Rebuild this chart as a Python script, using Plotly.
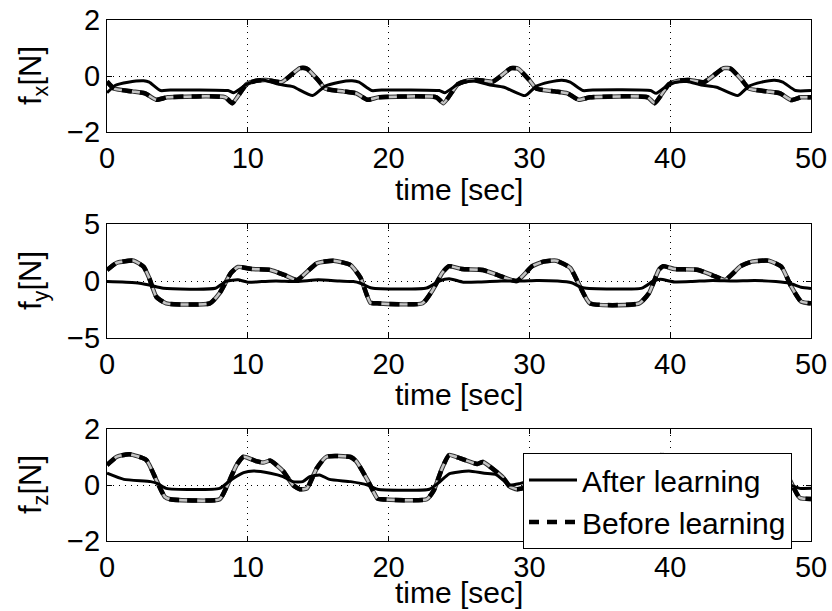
import plotly.graph_objects as go

# ---------------- data ----------------
fx_after_t = [0, 0.6, 1.5, 2.6, 3.0, 3.8, 4.5, 8.6, 9.0, 9.9, 10.4, 11.1, 12.2, 13.2, 14.6,
              15.5, 16.5, 17.4, 17.9, 18.8, 19.5, 23.6, 24.0, 24.9, 25.4, 26.1, 27.2, 28.2, 29.7,
              30.5, 31.4, 32.3, 32.9, 33.8, 34.5, 38.6, 39.0, 39.9, 40.4, 41.2, 42.2, 43.3, 44.8,
              45.6, 46.5, 47.4, 48.0, 48.9, 50.0]
fx_after_v = [-0.6, -0.33, -0.22, -0.17, -0.22, -0.52, -0.5, -0.52, -0.6, -0.3, -0.2, -0.14, -0.3, -0.38, -0.7,
              -0.36, -0.22, -0.17, -0.22, -0.52, -0.5, -0.52, -0.6, -0.3, -0.22, -0.18, -0.32, -0.4, -0.7,
              -0.36, -0.22, -0.15, -0.22, -0.52, -0.5, -0.52, -0.62, -0.3, -0.22, -0.2, -0.32, -0.4, -0.7,
              -0.36, -0.22, -0.15, -0.22, -0.52, -0.52]

fx_before_t = [0, 0.5, 1.8, 2.7, 3.5, 4.3, 8.4, 8.9, 9.9, 10.6, 11.3, 12.4, 13.7, 14.2, 15.0,
               15.5, 16.8, 17.7, 18.5, 19.3, 23.4, 23.9, 24.9, 25.6, 26.3, 27.4, 28.7, 29.2, 30.0,
               30.5, 31.8, 32.7, 33.5, 34.3, 38.4, 38.9, 39.9, 40.6, 41.3, 42.4, 43.8, 44.3, 45.1,
               45.6, 46.9, 47.8, 48.6, 49.3, 50.0]
fx_before_v = [-0.2, -0.45, -0.55, -0.62, -0.85, -0.76, -0.76, -0.97, -0.3, -0.17, -0.14, -0.22, 0.28, 0.26, -0.15,
               -0.45, -0.55, -0.62, -0.85, -0.76, -0.76, -0.97, -0.3, -0.17, -0.14, -0.2, 0.28, 0.26, -0.15,
               -0.45, -0.55, -0.62, -0.85, -0.76, -0.76, -0.97, -0.3, -0.17, -0.14, -0.22, 0.28, 0.26, -0.15,
               -0.45, -0.55, -0.62, -0.86, -0.76, -0.76]

fy_after_t = [0, 2.0, 3.0, 4.0, 7.7, 8.5, 9.3, 10.0, 11.0, 12.0, 13.5, 15.0, 16.5, 17.5, 18.0, 18.8,
              22.7, 23.6, 24.3, 25.3, 26.5, 28.0, 29.5, 30.5, 32.0, 33.0, 33.8, 38.0, 38.8, 39.3,
              40.3, 41.5, 43.0, 44.5, 46.0, 47.5, 48.5, 49.3, 50.0]
fy_after_v = [-0.05, -0.15, -0.35, -0.64, -0.64, 0.0, 0.1, -0.1, -0.05, 0.0, -0.05, 0.1, 0.0, -0.05, -0.2, -0.62,
              -0.62, 0.0, 0.2, -0.1, -0.08, 0.0, 0.0, 0.05, 0.0, -0.15, -0.6, -0.62, 0.0, 0.15,
              -0.08, -0.05, 0.05, 0.0, 0.05, -0.05, -0.2, -0.55, -0.65]

fy_before_t = [0, 0.7, 1.9, 2.6, 3.0, 3.5, 4.2, 7.3, 8.0, 8.8, 9.3, 10.3, 11.6, 12.6, 13.5, 14.9,
               16.1, 17.3, 18.0, 18.7, 19.2, 22.4, 23.1, 23.8, 24.3, 25.2, 26.7, 27.8, 29.1, 30.2,
               31.0, 31.9, 32.9, 33.6, 34.3, 37.8, 38.5, 39.2, 39.5, 40.3, 42.0, 43.0, 43.9, 45.0,
               45.8, 47.0, 47.9, 48.6, 49.3, 50.0]
fy_before_v = [0.96, 1.6, 1.78, 1.25, 0.26, -1.38, -1.96, -1.96, -1.06, 0.7, 1.23, 1.05, 0.97, 0.53, 0.09, 1.55,
               1.78, 1.4, 0.3, -1.9, -1.96, -1.96, -0.85, 0.7, 1.3, 1.05, 0.97, 0.5, 0.0, 1.3,
               1.7, 1.78, 1.15, -0.5, -1.96, -1.96, -1.06, 1.0, 1.3, 1.05, 0.97, 0.5, 0.1, 1.3,
               1.7, 1.78, 1.25, -0.5, -1.8, -1.96]

fz_after_t = [0, 1.2, 3.1, 3.6, 4.2, 8.0, 8.8, 9.7, 10.4, 11.6, 12.5, 13.2, 13.9, 14.4, 15.1, 15.8,
              17.3, 18.5, 19.2, 22.9, 23.6, 24.3, 25.7, 26.8, 27.6, 28.6, 29.3, 29.8, 30.3, 30.8,
              32.3, 33.5, 34.2, 37.9, 38.6, 39.3, 40.7, 41.8, 42.6, 43.6, 44.3, 44.8, 45.3, 45.8,
              47.3, 48.5, 49.2, 50.0]
fz_after_v = [0.42, 0.2, 0.12, 0.05, -0.12, -0.12, 0.18, 0.44, 0.5, 0.42, 0.3, 0.12, 0.12, 0.3, 0.36, 0.2,
              0.12, 0.0, -0.15, -0.15, 0.1, 0.4, 0.5, 0.42, 0.38, 0.0, 0.05, 0.12, 0.3, 0.2,
              0.12, 0.0, -0.15, -0.15, 0.1, 0.4, 0.5, 0.42, 0.38, 0.0, 0.05, 0.12, 0.3, 0.2,
              0.12, 0.0, -0.12, -0.12]

fz_before_t = [0, 0.7, 1.6, 2.8, 3.5, 4.1, 4.5, 8.0, 8.5, 9.2, 9.7, 10.6, 11.1, 11.6, 12.5, 13.2,
               13.7, 14.2, 14.9, 15.6, 17.3, 17.7, 18.5, 19.2, 19.5, 22.7, 23.2, 23.8, 24.3, 25.1,
               26.3, 26.7, 28.1, 28.6, 29.1, 29.6, 30.2, 30.8, 32.3, 32.8, 33.5, 34.2, 34.5, 37.7,
               38.2, 38.8, 39.3, 40.2, 41.3, 41.8, 43.1, 43.6, 44.1, 44.6, 45.2, 45.8, 47.3, 47.8,
               48.5, 49.2, 50.0]
fz_before_v = [0.71, 1.01, 1.1, 0.89, 0.18, -0.42, -0.51, -0.51, -0.06, 0.71, 1.01, 0.85, 0.8, 0.87, 0.5, 0.0,
               -0.15, -0.12, 0.6, 1.01, 1.0, 0.85, 0.18, -0.48, -0.51, -0.51, -0.2, 0.6, 1.07, 0.95,
               0.75, 0.82, 0.28, -0.05, -0.15, -0.1, 0.6, 1.01, 1.0, 0.85, 0.18, -0.48, -0.51, -0.51,
               -0.2, 0.6, 1.07, 0.95, 0.75, 0.82, 0.28, -0.05, -0.15, -0.1, 0.6, 1.01, 1.0, 0.85,
               0.18, -0.46, -0.5]

x_ticks = [0, 10, 20, 30, 40, 50]
y_ticks = [[-2, 0, 2], [-5, 0, 5], [-2, 0, 2]]
y_ranges = [[-2, 2], [-5, 5], [-2, 2]]
y_titles = ["f<sub>x</sub>[N]", "f<sub>y</sub>[N]", "f<sub>z</sub>[N]"]
x_title = "time [sec]"
legend_names = ["After learning", "Before learning"]

# ---------------- figure ----------------
FONT = "Liberation Sans, Arial, Helvetica, sans-serif"
W, H = 832, 611
x_dom = [107 / W, 811 / W]
y_doms = [[1 - 132 / H, 1 - 20 / H], [1 - 338 / H, 1 - 224 / H], [1 - 541 / H, 1 - 429 / H]]
title_y = [1 - 190 / H, 1 - 394 / H, 1 - 592 / H]

series = [(fx_after_t, fx_after_v, fx_before_t, fx_before_v),
          (fy_after_t, fy_after_v, fy_before_t, fy_before_v),
          (fz_after_t, fz_after_v, fz_before_t, fz_before_v)]

fig = go.Figure()
for i, (ta, va, tb, vb) in enumerate(series):
    xa = "x" if i == 0 else f"x{i+1}"
    ya = "y" if i == 0 else f"y{i+1}"
    line_kw = dict(shape="spline", smoothing=0.5)
    # before: dark edge, light grey core, black dashes
    fig.add_trace(go.Scatter(x=tb, y=vb, mode="lines", xaxis=xa, yaxis=ya, showlegend=False,
                             hoverinfo="skip", line=dict(color="#303030", width=4.5, **line_kw)))
    fig.add_trace(go.Scatter(x=tb, y=vb, mode="lines", xaxis=xa, yaxis=ya, showlegend=False,
                             hoverinfo="skip", line=dict(color="#c4c4c4", width=2.5, **line_kw)))
    fig.add_trace(go.Scatter(x=ta, y=va, mode="lines", xaxis=xa, yaxis=ya,
                             name=legend_names[0], showlegend=(i == 2), legendrank=1,
                             line=dict(color="black", width=3, **line_kw)))
    fig.add_trace(go.Scatter(x=tb, y=vb, mode="lines", xaxis=xa, yaxis=ya,
                             name=legend_names[1], showlegend=(i == 2), legendrank=2,
                             line=dict(color="black", width=4.5, dash="10px,8px", **line_kw)))

axis_common = dict(showline=True, linecolor="black", linewidth=1, mirror="all",
                   ticks="inside", ticklen=5, tickcolor="black", automargin=False,
                   showgrid=True, gridcolor="black", gridwidth=1, griddash="1px,5px",
                   zeroline=False, tickfont=dict(family=FONT, size=29, color="black"))

layout = dict(width=W, height=H, margin=dict(l=0, r=0, t=0, b=0, pad=0, autoexpand=False),
              paper_bgcolor="white", plot_bgcolor="white",
              font=dict(family=FONT, color="black"),
              legend=dict(x=523 / W, y=1 - 453 / H, xanchor="left", yanchor="top",
                          bgcolor="white", bordercolor="black", borderwidth=1,
                          font=dict(family=FONT, size=30, color="black"),
                          tracegroupgap=0, itemwidth=48),
              annotations=[])

for i in range(3):
    xk = "xaxis" if i == 0 else f"xaxis{i+1}"
    yk = "yaxis" if i == 0 else f"yaxis{i+1}"
    ya = "y" if i == 0 else f"y{i+1}"
    xa = "x" if i == 0 else f"x{i+1}"
    layout[xk] = dict(domain=x_dom, anchor=ya, range=[0, 50], tickvals=x_ticks,
                      ticktext=[str(v) for v in x_ticks], **axis_common)
    layout[yk] = dict(domain=y_doms[i], anchor=xa, range=y_ranges[i], tickvals=y_ticks[i],
                      ticktext=[("\u2212" + str(-v)) if v < 0 else str(v) for v in y_ticks[i]],
                      **axis_common)
    layout["annotations"].append(dict(text=x_title, x=459 / W, y=title_y[i], xref="paper", yref="paper",
                                      xanchor="center", yanchor="middle", showarrow=False,
                                      font=dict(family=FONT, size=30, color="black")))
    layout["annotations"].append(dict(text=y_titles[i], x=33 / W, y=sum(y_doms[i]) / 2,
                                      xref="paper", yref="paper", textangle=-90,
                                      xanchor="center", yanchor="middle", showarrow=False,
                                      font=dict(family=FONT, size=31, color="black")))

fig.update_layout(**layout)
fig.write_html("out.html", config={"displayModeBar": False},
               post_script="document.body.style.margin='0px';document.body.style.overflow='hidden';")
